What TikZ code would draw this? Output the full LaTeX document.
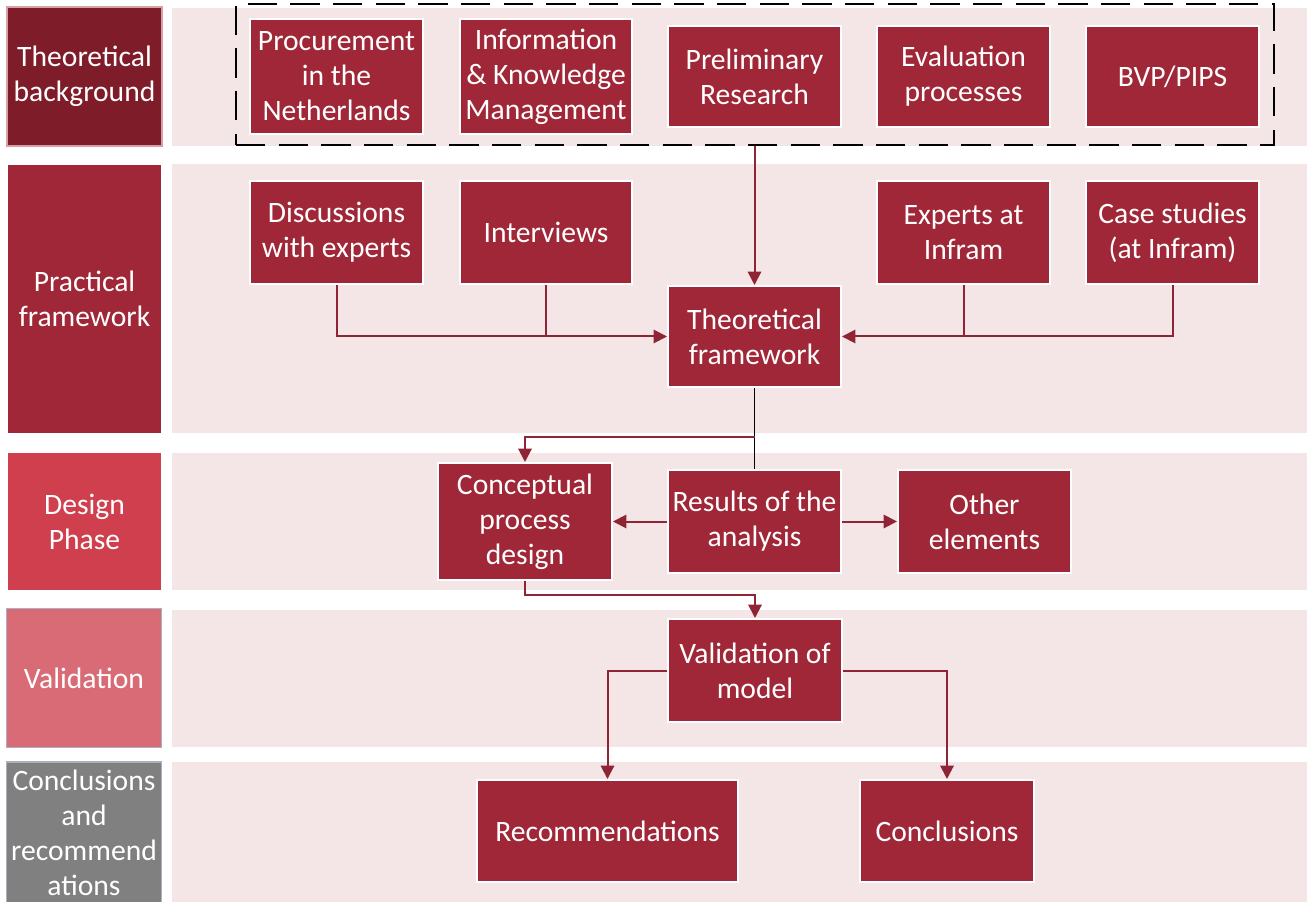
\documentclass[tikz,border=0pt]{standalone}
\usepackage{fontspec}
\setmainfont{Carlito}
\usetikzlibrary{arrows.meta,calc}
\definecolor{boxred}{HTML}{A02737}
\definecolor{bandpink}{HTML}{F4E6E7}
\definecolor{labdark}{HTML}{7E1D29}
\definecolor{labmid}{HTML}{A02737}
\definecolor{labbright}{HTML}{CF3F4E}
\definecolor{lablight}{HTML}{D96B77}
\definecolor{labgray}{HTML}{808080}
\definecolor{linkred}{HTML}{8E2434}
\begin{document}
\begin{tikzpicture}[x=0.75pt,y=-0.75pt,
  every node/.style={font=\fontsize{22.2}{26.25}\selectfont},
  sz/.style 2 args={minimum width=#1*0.75pt,minimum height=#2*0.75pt},
  stepbox/.style={draw=white,line width=1.5pt,fill=boxred,text=white,align=center,inner sep=0pt},
  phase/.style={fill=#1,text=white,align=center,inner sep=0pt},
  band/.style={fill=bandpink,draw=none},
  arr/.style={draw=linkred,line width=1.5pt,-{Triangle[width=10pt,length=10pt]}},
  lnk/.style={draw=linkred,line width=1.5pt},
  blk/.style={draw=black,line width=1.2pt}]
\useasboundingbox (0,0) rectangle (1307,902);
\fill[white] (0,0) rectangle (1307,902);

% background bands of the five rows
\fill[band] (172,8) rectangle (1307,146);
\fill[band] (172,164) rectangle (1307,433);
\fill[band] (172,453) rectangle (1307,590);
\fill[band] (172,610) rectangle (1307,747);
\fill[band] (172,762) rectangle (1307,902);

% phase labels on the left
\node[phase=labdark,draw={rgb,255:red,214;green,160;blue,166},line width=1pt,sz={155}{139}] (lab1) at (84.5,76.5) {Theoretical\\background};
\node[phase=labmid,sz={153}{268}] (lab2) at (84.5,299) {Practical\\framework};
\node[phase=labbright,sz={153}{137}] (lab3) at (84.5,521.5) {Design\\Phase};
\node[phase=lablight,draw={rgb,255:red,170;green,176;blue,190},line width=1pt,sz={155}{139}] (lab4) at (84,678) {Validation};
\node[phase=labgray,draw={rgb,255:red,170;green,176;blue,190},line width=1pt,sz={155}{142}] (lab5) at (84,833) {Conclusions\\and\\recommend\\ations};

% dashed group of the theoretical sources
\node[draw=black,line width=1.5pt,dash pattern=on 22pt off 10pt,sz={1038}{141},inner sep=0pt] (grp) at (755,74.5) {};

% row 1
\node[stepbox,sz={173}{115}] (proc) at (336.5,76.5) {Procurement\\in the\\Netherlands};
\node[stepbox,sz={172}{115}] (info) at (546,76.5) {Information\\\&\ Knowledge\\Management};
\node[stepbox,sz={173}{101}] (prelim) at (754.5,76.5) {Preliminary\\Research};
\node[stepbox,sz={173}{101}] (eval) at (963.5,76.5) {Evaluation\\processes};
\node[stepbox,sz={173}{101}] (bvp) at (1172.5,76.5) {BVP/PIPS};

% row 2
\node[stepbox,sz={173}{103}] (disc) at (336.5,232.5) {Discussions\\with experts};
\node[stepbox,sz={172}{103}] (interv) at (546,232.5) {Interviews};
\node[stepbox,sz={173}{103}] (experts) at (963.5,232.5) {Experts at\\Infram};
\node[stepbox,sz={173}{103}] (cases) at (1172.5,232.5) {Case studies\\(at Infram)};
\node[stepbox,sz={173}{101}] (tf) at (754.5,336.5) {Theoretical\\framework};

% row 3
\node[stepbox,sz={174}{117}] (concept) at (525,521.5) {Conceptual\\process\\design};
\node[stepbox,sz={173}{103}] (results) at (754.5,521.5) {Results of the\\analysis};
\node[stepbox,sz={173}{103}] (other) at (984.5,521.5) {Other\\elements};

% row 4
\node[stepbox,sz={174}{103}] (valid) at (755,670.5) {Validation of\\model};

% row 5
\node[stepbox,sz={261}{102}] (recom) at (607.5,831) {Recommendations};
\node[stepbox,sz={174}{102}] (concl) at (947,831) {Conclusions};

% connectors
\draw[arr] (grp.south -| tf.north) -- (tf.north);
\draw[arr] (disc.south) |- (tf.west);
\draw[lnk] (interv.south) -- (interv.south |- tf.west);
\draw[arr] (cases.south) |- (tf.east);
\draw[lnk] (experts.south) -- (experts.south |- tf.east);

\coordinate (split) at (754.5,437);
\draw[blk] (tf.south) -- (results.north);
\draw[arr] (split) -| (concept.north);
\draw[arr] (results.west) -- (concept.east);
\draw[arr] (results.east) -- (other.west);

\draw[arr] (concept.south) -- ++(0,14) -| (valid.north);
\draw[arr] (valid.west) -| (recom.north);
\draw[arr] (valid.east) -| (concl.north);
\end{tikzpicture}
\end{document}
